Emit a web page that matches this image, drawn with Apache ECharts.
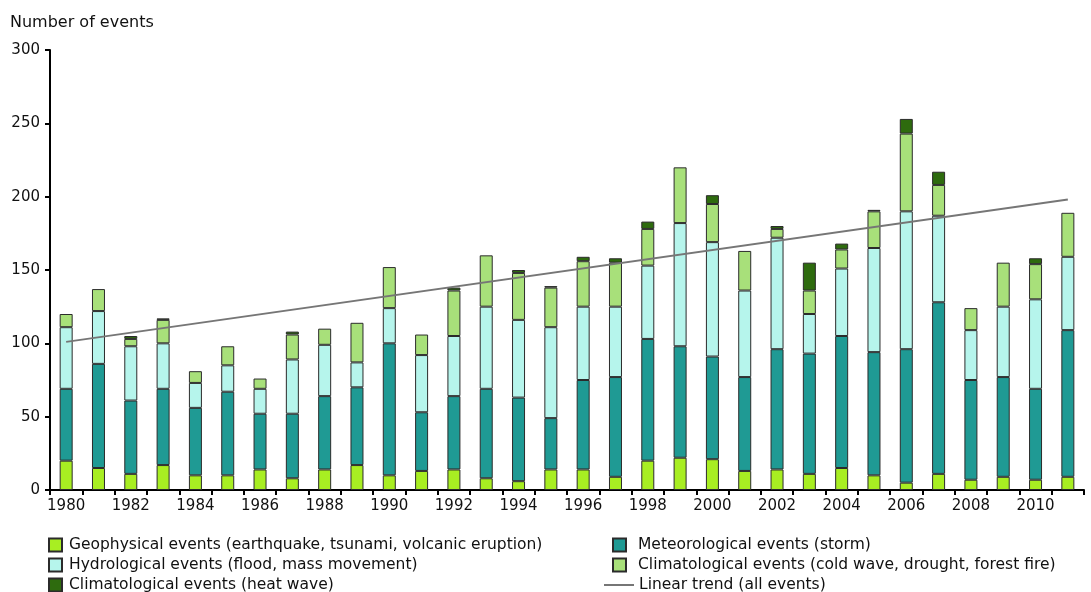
<!DOCTYPE html>
<html>
<head>
<meta charset="utf-8">
<script src="https://cdn.jsdelivr.net/npm/echarts@6/dist/echarts.min.js"></script>
<style>
html,body{margin:0;padding:0;background:#fff;}
#chart{width:1091px;height:592px;}
</style>
</head>
<body>
<div id="chart"></div>
<script>
var years = ['1980','1981','1982','1983','1984','1985','1986','1987','1988','1989','1990','1991','1992','1993','1994','1995','1996','1997','1998','1999','2000','2001','2002','2003','2004','2005','2006','2007','2008','2009','2010','2011'];
var geophysical  = [20,15,11,17,10,10,14, 8,14,17,10,13,14, 8, 6,14,14, 9,20,22,21,13,14,11,15,10, 5, 11, 7, 9, 7, 9];
var meteorological = [49,71,50,52,46,57,38,44,50,53,90,40,50,61,57,35,61,68,83,76,70,64,82,82,90,84,91,117,68,68,62,100];
var hydrological = [42,36,37,31,17,18,17,37,35,17,24,39,41,56,53,62,50,48,50,84,78,59,76,27,46,71,94, 59,34,48,61,50];
var climatological = [9,15, 5,16, 8,13, 7,17,11,27,28,14,31,35,32,27,31,30,25,38,26,27, 6,16,13,25,53, 21,15,30,24,30];
var heatWave = [0, 0, 2, 1, 0, 0, 0, 2, 0, 0, 0, 0, 2, 0, 2, 1, 3, 3, 5, 0, 6, 0, 2,19, 4, 1,10,  9, 0, 0, 4, 0];
var trend = [['1980', 101], ['2011', 198]];
var yTicks = [0, 50, 100, 150, 200, 250, 300];

var names = {
  geo: 'Geophysical events (earthquake, tsunami, volcanic eruption)',
  met: 'Meteorological events (storm)',
  hyd: 'Hydrological events (flood, mass movement)',
  cli: 'Climatological events (cold wave, drought, forest fire)',
  heat: 'Climatological events (heat wave)',
  trend: 'Linear trend (all events)'
};
var font = 'DejaVu Sans, Verdana, sans-serif';

function barSeries(name, data, color) {
  return {
    name: name, type: 'bar', stack: 'all', barWidth: 13,
    data: data.map(function (v) { return v === 0 ? null : v; }),
    itemStyle: { color: color, borderColor: '#2b2b2b', borderWidth: 1 },
    emphasis: { disabled: true }
  };
}
var legendText = { fontFamily: font, fontSize: 15.5, color: '#111', lineHeight: 14 };

var chart = echarts.init(document.getElementById('chart'), null, { renderer: 'canvas' });
chart.setOption({
  animation: false,
  backgroundColor: '#fff',
  textStyle: { fontFamily: font },
  title: {
    text: 'Number of events', left: 10, top: 15, padding: 0,
    textStyle: { fontFamily: font, fontSize: 16, fontWeight: 'normal', color: '#111' }
  },
  grid: { left: 50, right: 7, top: 50, bottom: 102, containLabel: false },
  legend: [
    {
      orient: 'vertical', left: 48, top: 537, height: 60, padding: 0, itemGap: 4,
      itemWidth: 13, itemHeight: 13, icon: 'rect',
      data: [names.geo, names.hyd, names.heat],
      textStyle: Object.assign({ padding: [0, 0, 0, 2] }, legendText),
      selectedMode: false
    },
    {
      orient: 'vertical', left: 612, top: 537, height: 40, padding: 0, itemGap: 4,
      itemWidth: 13, itemHeight: 13, icon: 'rect',
      data: [names.met, names.cli],
      textStyle: Object.assign({ padding: [0, 0, 0, 7] }, legendText),
      selectedMode: false
    },
    {
      orient: 'vertical', left: 604, top: 577, height: 20, padding: 0,
      itemWidth: 30, itemHeight: 2,
      data: [{ name: names.trend, icon: 'rect' }],
      textStyle: Object.assign({ padding: [0, 0, 0, 0] }, legendText),
      selectedMode: false
    }
  ],
  xAxis: {
    type: 'category', data: years, boundaryGap: true,
    axisLine: { lineStyle: { color: '#000', width: 2 } },
    axisTick: { show: true, interval: 0, length: 5, lineStyle: { color: '#000', width: 2 } },
    axisLabel: { interval: 1, fontFamily: font, fontSize: 15, color: '#111', margin: 9 }
  },
  yAxis: {
    type: 'value', min: yTicks[0], max: yTicks[yTicks.length - 1], interval: 50,
    axisLine: { show: true, lineStyle: { color: '#000', width: 2 } },
    axisTick: { show: true, length: 5, lineStyle: { color: '#000', width: 2 } },
    axisLabel: { fontFamily: font, fontSize: 15, color: '#111', margin: 10 },
    splitLine: { show: false }
  },
  series: [
    barSeries(names.geo, geophysical, '#a8ee22'),
    barSeries(names.met, meteorological, '#1f9a94'),
    barSeries(names.hyd, hydrological, '#b6f5ec'),
    barSeries(names.cli, climatological, '#a8e07a'),
    barSeries(names.heat, heatWave, '#2e6b0e'),
    {
      name: names.trend, type: 'line', data: trend, symbol: 'none',
      lineStyle: { color: '#767676', width: 2 }, itemStyle: { color: '#767676' },
      z: 5, emphasis: { disabled: true }
    }
  ]
});
</script>
</body>
</html>
